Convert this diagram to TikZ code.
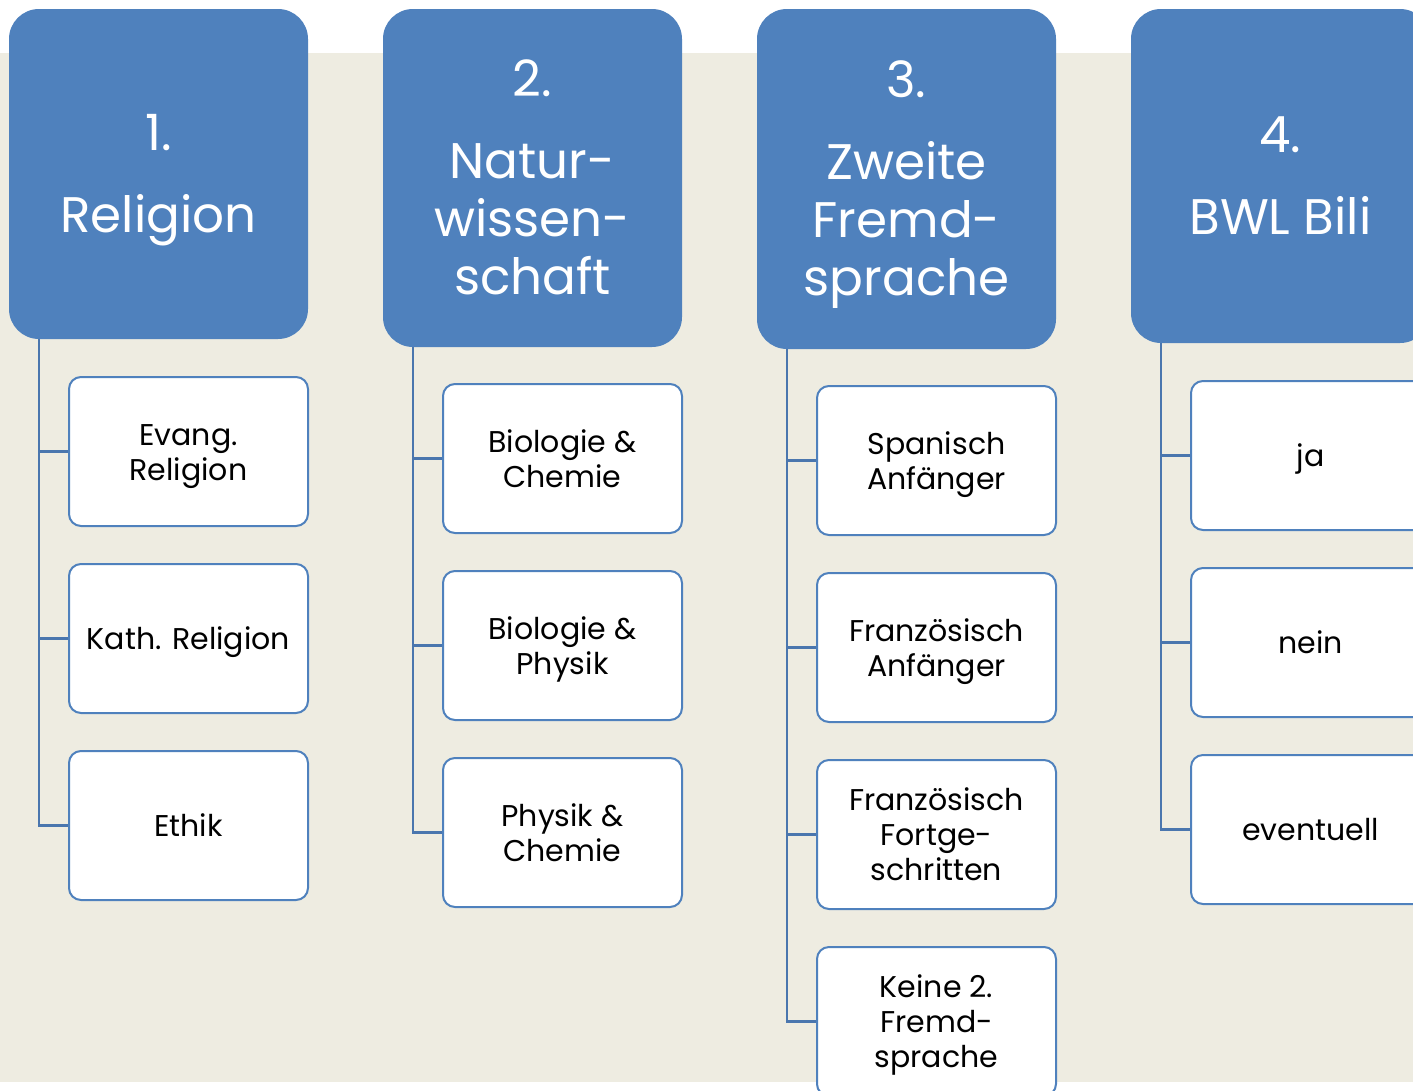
\documentclass[tikz,border=0pt]{standalone}
\usepackage{fontspec}
\setmainfont{Poppins}
\usetikzlibrary{calc}
\definecolor{hblue}{HTML}{4F81BD}
\definecolor{lblue}{HTML}{4A76AE}
\definecolor{bgtan}{HTML}{EEECE1}
\tikzset{
  header/.style={fill=hblue, draw=none, rounded corners=30pt, minimum width=299pt,
    inner sep=0pt},
  htext/.style={text=white, align=center, inner sep=0pt, font=\fontsize{50}{58}\selectfont},
  child/.style={fill=white, draw=hblue, line width=2pt, rounded corners=12pt,
    minimum width=239pt, minimum height=149pt, inner sep=0pt},
  ctext/.style={align=center, inner sep=0pt, text=black, font=\fontsize{30}{35}\selectfont},
  conn/.style={draw=lblue, line width=2.5pt}
}
\begin{document}
\begin{tikzpicture}[x=1pt,y=-1pt]
\useasboundingbox (0,0) rectangle (1413,1090);
\clip (0,0) rectangle (1413,1090);
\fill[white] (0,0) rectangle (1413,1090);
\fill[bgtan] (0,53) rectangle (1413,1082);
% headers
\node[header, minimum height=330pt] (h1) at (158.5,174) {};
\node[header, minimum height=338pt] (h2) at (532.5,178) {};
\node[header, minimum height=340pt] (h3) at (906.5,179) {};
\node[header, minimum height=334pt] (h4) at (1280.5,176) {};
\node[htext] (h1t) at ($(h1)+(0,6)$) {\strut 1.\\[24pt]Religion\strut};
\node[htext] (h2t) at ($(h2)+(0,6)$) {\strut 2.\\[24pt]Natur-\\wissen-\\schaft\strut};
\node[htext] (h3t) at ($(h3)+(0,6)$) {\strut 3.\\[24pt]Zweite\\Fremd-\\sprache\strut};
\node[htext] (h4t) at ($(h4)+(0,6)$) {\strut 4.\\[24pt]BWL Bili\strut};
% trunk coordinates
\coordinate (t1) at ($(h1.south west)+(30,0)$);
\coordinate (t2) at ($(h2.south west)+(30,0)$);
\coordinate (t3) at ($(h3.south west)+(30,0)$);
\coordinate (t4) at ($(h4.south west)+(30,0)$);
% children (boxes)
\node[child] (c11) at (188.5,451.5) {};
\node[child] (c12) at (188.5,638.5) {};
\node[child] (c13) at (188.5,825.5) {};
\node[child] (c21) at (562.5,458.5) {};
\node[child] (c22) at (562.5,645.5) {};
\node[child] (c23) at (562.5,832.5) {};
\node[child] (c31) at (936.5,460.5) {};
\node[child] (c32) at (936.5,647.5) {};
\node[child] (c33) at (936.5,834.5) {};
\node[child] (c34) at (936.5,1021.5) {};
\node[child] (c41) at (1310.5,455.5) {};
\node[child] (c42) at (1310.5,642.5) {};
\node[child] (c43) at (1310.5,829.5) {};
% children (texts)
\node[ctext] (c11t) at ($(c11)+(0,4)$) {\strut Evang.\\Religion\strut};
\node[ctext] (c12t) at ($(c12)+(0,4)$) {\strut Kath. Religion\strut};
\node[ctext] (c13t) at ($(c13)+(0,4)$) {\strut Ethik\strut};
\node[ctext] (c21t) at ($(c21)+(0,4)$) {\strut Biologie \&\\Chemie\strut};
\node[ctext] (c22t) at ($(c22)+(0,4)$) {\strut Biologie \&\\Physik\strut};
\node[ctext] (c23t) at ($(c23)+(0,4)$) {\strut Physik \&\\Chemie\strut};
\node[ctext] (c31t) at ($(c31)+(0,4)$) {\strut Spanisch\\Anfänger\strut};
\node[ctext] (c32t) at ($(c32)+(0,4)$) {\strut Französisch\\Anfänger\strut};
\node[ctext] (c33t) at ($(c33)+(0,4)$) {\strut Französisch\\Fortge-\\schritten\strut};
\node[ctext] (c34t) at ($(c34)+(0,4)$) {\strut Keine 2.\\Fremd-\\sprache\strut};
\node[ctext] (c41t) at ($(c41)+(0,4)$) {\strut ja\strut};
\node[ctext] (c42t) at ($(c42)+(0,4)$) {\strut nein\strut};
\node[ctext] (c43t) at ($(c43)+(0,4)$) {\strut eventuell\strut};
% connectors
\foreach \c in {c11,c12,c13} {\draw[conn] (t1) |- (\c.west);}
\foreach \c in {c21,c22,c23} {\draw[conn] (t2) |- (\c.west);}
\foreach \c in {c31,c32,c33,c34} {\draw[conn] (t3) |- (\c.west);}
\foreach \c in {c41,c42,c43} {\draw[conn] (t4) |- (\c.west);}
\end{tikzpicture}
\end{document}
